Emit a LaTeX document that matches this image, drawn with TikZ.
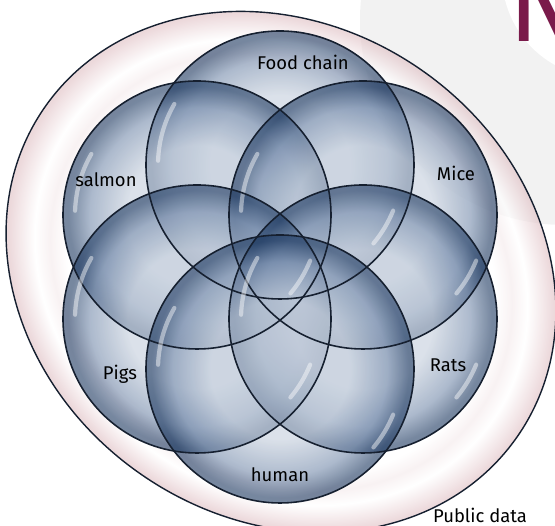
\documentclass[tikz,border=0pt]{standalone}
\usepackage{fontspec}
\setmainfont{Fira Sans}

\definecolor{rosy}{RGB}{226,196,200}
\colorlet{blush}{rosy!35!white}
\definecolor{bubcore}{RGB}{196,206,220}
\definecolor{bubmid}{RGB}{118,140,172}
\definecolor{bubrim}{RGB}{28,56,96}
\definecolor{rimline}{RGB}{22,32,48}
\definecolor{backdrop}{RGB}{242,242,242}
\definecolor{plum}{RGB}{122,26,74}

\pgfdeclareradialshading{bubble}{\pgfpoint{0cm}{0cm}}{color(0bp)=(bubcore); color(13bp)=(bubcore); color(20bp)=(bubmid); color(24bp)=(bubrim); color(25bp)=(bubrim); color(50bp)=(bubrim)}
\pgfdeclareradialshading{halo}{\pgfpoint{0cm}{0cm}}{color(0bp)=(white); color(19.5bp)=(white); color(21bp)=(blush); color(22.4bp)=(white); color(24.8bp)=(rosy); color(50bp)=(rosy)}

\begin{document}
\begin{tikzpicture}[petal/.style = {circle, minimum size=5.36cm, inner sep=0pt, shade, shading=bubble, fill opacity=0.6},
  tag/.style = {font=\fontsize{10.5}{12}\selectfont, text=black},
  gloss/.style = {white, line width=2.4pt, line cap=round, opacity=0.45}]
\useasboundingbox (0,0) rectangle (11.1,10.52);
\fill[backdrop] (11.3,10.12) circle (4.1);
\fill[white] (12.1,11.02) circle (2.06);
\node[text=plum, font=\fontsize{62}{62}\selectfont, anchor=base west, inner sep=0pt] (brand) at (10.16,9.68) {N};
% the public data ring
\begin{scope}[transform canvas={shift={(5.62,5.08)}, rotate=-35}]
\shade[shading=halo, fill opacity=0.65] (0,0) ellipse [x radius=5.76, y radius=4.92];
\end{scope}
\draw[rimline, line width=0.8pt, rotate around={-35:(5.62,5.08)}] (5.62,5.08) ellipse [x radius=5.76, y radius=4.92];
\node[petal] (food) at (5.60,7.22) {};
\node[petal] (salmon) at (3.94,6.22) {};
\node[petal] (mice) at (7.26,6.22) {};
\node[petal] (pigs) at (3.94,4.14) {};
\node[petal] (rats) at (7.26,4.14) {};
\node[petal] (human) at (5.60,3.14) {};
\foreach \p in {food,salmon,mice,pigs,rats,human} {
  \draw[rimline, line width=0.9pt] (\p.center) circle (2.68);
  \draw[gloss] (\p.center) ++(150:2.44) arc[start angle=150, end angle=178, radius=2.44];
  \draw[gloss] (\p.center) ++(-40:2.44) arc[start angle=-40, end angle=-22, radius=2.44];
}
\node[tag] (foodtag) at (6.06,9.28) {Food chain};
\node[tag] (salmontag) at (2.12,6.92) {salmon};
\node[tag] (micetag) at (9.12,7.06) {Mice};
\node[tag] (pigstag) at (2.40,3.04) {Pigs};
\node[tag] (ratstag) at (8.96,3.22) {Rats};
\node[tag] (humantag) at (5.60,1.02) {human};
\node[tag] (publictag) at (9.60,0.22) {Public data};
\end{tikzpicture}
\end{document}
